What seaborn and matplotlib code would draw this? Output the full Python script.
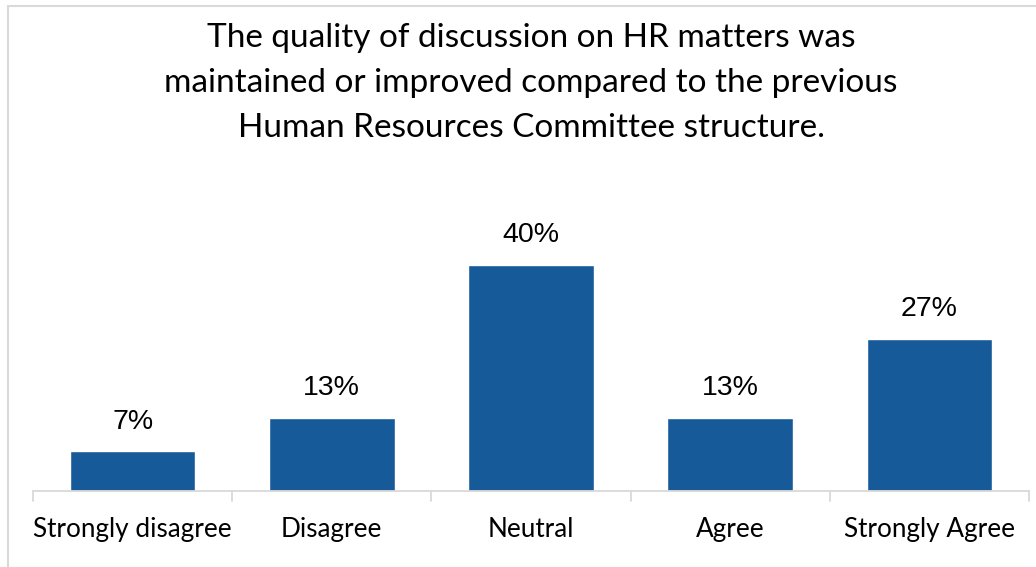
import matplotlib
matplotlib.use("Agg")
import matplotlib.pyplot as plt
import seaborn as sns
import pandas as pd
from matplotlib.lines import Line2D
from matplotlib.patches import Rectangle

categories = ["Strongly disagree", "Disagree", "Neutral", "Agree", "Strongly Agree"]
values = [7, 13, 40, 13, 27]
title = ("The quality of discussion on HR matters was\n"
         "maintained or improved compared to the previous\n"
         "Human Resources Committee structure.")

sns.set_theme(style="white")
plt.rcParams["font.family"] = ["Lato", "DejaVu Sans"]

df = pd.DataFrame({"category": categories, "value": values})

W, H = 1036, 567
fig = plt.figure(figsize=(W / 100, H / 100), dpi=100)
ax = fig.add_axes([33 / W, 76 / H, (1029 - 33) / W, 254 / H])

bar_color = "#175A9A"
sns.barplot(data=df, x="category", y="value", color=bar_color, width=0.63,
            saturation=1, ax=ax)

ax.set_ylim(0, 45)
ax.set_xlim(-0.5, len(categories) - 0.5)
ax.set_xlabel("")
ax.set_ylabel("")
ax.set_yticks([])
for s in ["top", "right", "left"]:
    ax.spines[s].set_visible(False)
ax.spines["bottom"].set_color("#D9D9D9")
ax.spines["bottom"].set_linewidth(1.3)

ax.tick_params(axis="x", length=0, pad=19, labelsize=18.8, colors="black")
for lbl in ax.get_xticklabels():
    lbl.set_color("black")

# category boundary ticks below the baseline
for b in [i - 0.5 for i in range(len(categories) + 1)]:
    ax.add_line(Line2D([b, b], [0, -1.8], color="#D9D9D9", lw=1.3,
                       clip_on=False))

for i, v in enumerate(values):
    ax.text(i, v + 3.0, f"{v}%", ha="center", va="bottom", fontsize=20.5,
            family=["Liberation Sans"], color="black")

fig.text(531 / W, 1 - 83 / H, title, ha="center", va="center", fontsize=24,
         linespacing=1.62, color="black")

# chart frame
fig.patches.append(Rectangle((7.5 / W, -0.1), 1.2, 1 - 5.5 / H + 0.1,
                             transform=fig.transFigure, fill=False,
                             edgecolor="#D9D9D9", lw=1.5))

fig.savefig("out.png", dpi=100, facecolor="white")
